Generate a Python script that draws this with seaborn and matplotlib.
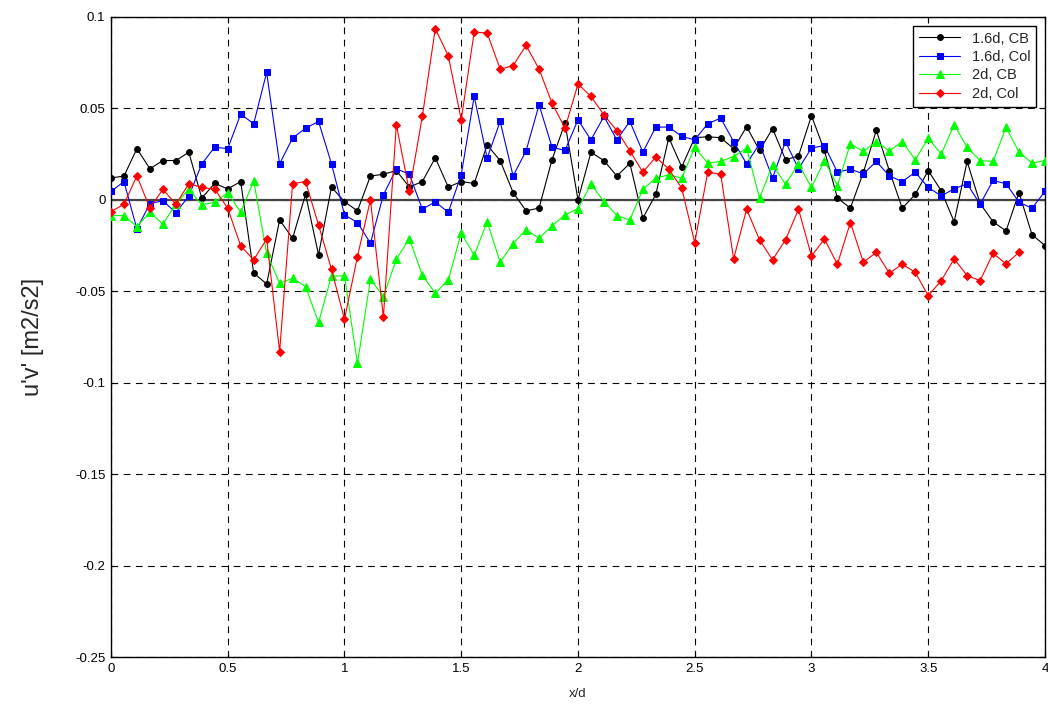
import numpy as np
import pandas as pd
import matplotlib
matplotlib.use("Agg")
import matplotlib.pyplot as plt
from matplotlib.ticker import FuncFormatter
import seaborn as sns

# Measurement stations along the wake, x/d (uniform sampling grid 0..4)
x_d = np.linspace(0.0, 4.0, 73)

# Reynolds shear stress u'v' [m2/s2] for each configuration
uv_16d_cb = [
    0.012, 0.013, 0.028, 0.017, 0.0215, 0.0215, 0.026, 0.001, 0.009, 0.006,
    0.010, -0.040, -0.046, -0.011, -0.021, 0.003, -0.030, 0.007, -0.001, -0.006,
    0.013, 0.014, 0.016, 0.007, 0.010, 0.023, 0.007, 0.010, 0.009, 0.030,
    0.0215, 0.004, -0.006, -0.0045, 0.022, 0.042, 0.000, 0.026, 0.0215, 0.013,
    0.020, -0.010, 0.003, 0.034, 0.018, 0.034, 0.0345, 0.034, 0.028, 0.040,
    0.027, 0.039, 0.022, 0.024, 0.046, 0.027, 0.001, -0.0045, 0.015, 0.038,
    0.016, -0.0046, 0.003, 0.016, 0.005, -0.012, 0.021, -0.002, -0.012, -0.017,
    0.004, -0.019, -0.025,
]
uv_16d_col = [
    0.0046, 0.010, -0.016, -0.002, -0.0005, -0.007, 0.002, 0.0197, 0.0288, 0.028,
    0.0469, 0.0416, 0.0697, 0.0197, 0.0338, 0.0392, 0.0429, 0.0197, -0.0082, -0.0124,
    -0.0237, 0.0027, 0.017, 0.014, -0.0051, -0.0011, -0.0068, 0.0137, 0.0566, 0.0228,
    0.0429, 0.0131, 0.0268, 0.052, 0.0288, 0.027, 0.0438, 0.0328, 0.0456, 0.0328,
    0.0429, 0.0261, 0.0398, 0.0398, 0.0347, 0.0328, 0.0416, 0.0447, 0.0319, 0.0197,
    0.0307, 0.0119, 0.0319, 0.017, 0.0283, 0.0297, 0.0151, 0.0168, 0.0142, 0.021,
    0.0131, 0.010, 0.0151, 0.0068, 0.0022, 0.006, 0.0088, -0.0024, 0.0106, 0.0088,
    -0.0013, -0.0046, 0.0046,
]
uv_2d_cb = [
    -0.0086, -0.0086, -0.0146, -0.0068, -0.0133, -0.0022, 0.0058, -0.0027, -0.0013, 0.004,
    -0.0068, 0.0104, -0.0292, -0.0456, -0.0429, -0.0474, -0.067, -0.0416, -0.0416, -0.0894,
    -0.0434, -0.0529, -0.0325, -0.0212, -0.0412, -0.0511, -0.0438, -0.0182, -0.0303, -0.0119,
    -0.0341, -0.0239, -0.0164, -0.021, -0.0142, -0.0082, -0.0048, 0.0086, -0.0009, -0.0086,
    -0.011, 0.0058, 0.0119, 0.0137, 0.0119, 0.0287, 0.0201, 0.021, 0.0237, 0.0283,
    0.0009, 0.0192, 0.0086, 0.0197, 0.0068, 0.0215, 0.0078, 0.0307, 0.0265, 0.0319,
    0.0268, 0.0319, 0.0219, 0.0338, 0.025, 0.0411, 0.0287, 0.0215, 0.021, 0.0396,
    0.0261, 0.0201, 0.0215,
]
uv_2d_col = [
    -0.0064, -0.0024, 0.0131, -0.0046, 0.0058, -0.0024, 0.0088, 0.0068, 0.0058, -0.0046,
    -0.0252, -0.0328, -0.0214, -0.083, 0.0088, 0.010, -0.0137, -0.038, -0.0653, -0.031,
    0.000, -0.0642, 0.0411, 0.0046, 0.0456, 0.0936, 0.0788, 0.0438, 0.0918, 0.0912,
    0.0715, 0.0734, 0.0845, 0.0715, 0.0529, 0.0392, 0.0633, 0.0566, 0.0465, 0.0378,
    0.0268, 0.0151, 0.0234, 0.0168, 0.0064, -0.0234, 0.0151, 0.0141, -0.0323, -0.0051,
    -0.0219, -0.0328, -0.0219, -0.0051, -0.0307, -0.0214, -0.0352, -0.0124, -0.0341, -0.0287,
    -0.0401, -0.0352, -0.0396, -0.0524, -0.0442, -0.0323, -0.0414, -0.0442, -0.0292, -0.035,
    -0.0287,
]

labels = ["1.6d, CB", "1.6d, Col", "2d, CB", "2d, Col"]
colors = ["#000000", "#0000FF", "#00FF00", "#FF0000"]
markers = ["o", "s", "^", "D"]
msizes = [4.2, 4.4, 5.4, 4.0]

x_ticks = [0, 0.5, 1, 1.5, 2, 2.5, 3, 3.5, 4]
y_ticks = [-0.25, -0.2, -0.15, -0.1, -0.05, 0, 0.05, 0.1]

sns.set_style("white")
plt.rcParams["font.family"] = ["Liberation Sans", "DejaVu Sans"]

fig = plt.figure(figsize=(10.48, 7.08), dpi=100)
ax = fig.add_axes([0.1059, 0.072, 0.8912, 0.904])

series = [uv_16d_cb, uv_16d_col, uv_2d_cb, uv_2d_col]
for vals, lab, col, mk, ms in zip(series, labels, colors, markers, msizes):
    df = pd.DataFrame({"x/d": x_d[:len(vals)], "uv": vals})
    sns.lineplot(data=df, x="x/d", y="uv", ax=ax, color=col, marker=mk,
                 markersize=ms, markeredgecolor=col, markerfacecolor=col,
                 linewidth=0.8, label=lab, sort=False, zorder=3)

# zero reference line
ax.axhline(0, color="#444444", linewidth=1.6, zorder=2)

ax.set_xlim(0, 4)
ax.set_ylim(-0.25, 0.1)
ax.set_xticks(x_ticks)
ax.set_yticks(y_ticks)
fmt = FuncFormatter(lambda v, p: f"{v:g}")
ax.xaxis.set_major_formatter(fmt)
ax.yaxis.set_major_formatter(fmt)

ax.grid(True, which="major", color="black", linestyle=(0, (6, 5)), linewidth=0.8)
ax.set_axisbelow(True)
for sp in ax.spines.values():
    sp.set_color("black")
    sp.set_linewidth(1.0)
    sp.set_visible(True)

ax.tick_params(axis="both", direction="in", length=4, width=0.8, colors="black",
               labelsize=9.5, top=True, right=True, bottom=True, left=True, pad=4)

ax.set_xlabel("x/d", fontsize=9.5, labelpad=10)
ax.set_ylabel("u'v' [m2/s2]", fontsize=17, labelpad=22)

leg = ax.legend(loc="upper right", fontsize=10.5, frameon=True, fancybox=False,
                framealpha=1, edgecolor="black", borderaxespad=0.6,
                handlelength=2.8, labelspacing=0.3, borderpad=0.4)
leg.get_frame().set_linewidth(1.0)

fig.savefig("out.png", dpi=100, facecolor="white")
